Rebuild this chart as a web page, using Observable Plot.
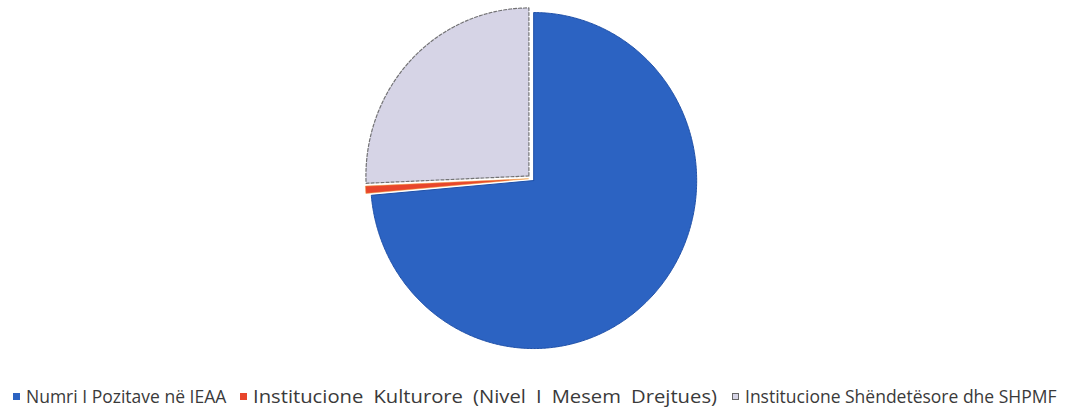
<!DOCTYPE html>
<html>
<head>
<meta charset="utf-8">
<script src="https://cdn.jsdelivr.net/npm/d3@7"></script>
<script src="https://cdn.jsdelivr.net/npm/@observablehq/plot@0.6"></script>
<style>
  html, body { margin: 0; padding: 0; background: #fff; }
  #chart { width: 1068px; height: 408px; position: relative; }
  #legend { position: absolute; left: 0; top: 385px; width: 1068px; height: 24px;
    font-family: "Open Sans", "Noto Sans", sans-serif; font-size: 17.5px; color: #3a3a3a; white-space: nowrap; }
  .sw { position: absolute; width: 7px; height: 7px; box-sizing: border-box; top: 8px; }
  .tx { position: absolute; top: -1px; line-height: 24px; transform-origin: 0 50%; }
</style>
</head>
<body>
<div id="chart"><div id="plot"></div><div id="legend"></div></div>
<script>
// ---- data ----
const categories = [
  "Numri I Pozitave në IEAA",
  "Institucione Kulturore (Nivel I Mesem Drejtues)",
  "Institucione Shëndetësore dhe SHPMF"
];
const values = [73.6, 0.7, 25.7];
const colors = ["#2c63c2", "#e8452c", "#d6d4e6"];
const explode = [0.018, 0.02, 0.022];

// ---- geometry (data space, radius = 1) ----
const total = d3.sum(values);
const rows = [];
let start = 0;
values.forEach((v, i) => {
  const a0 = start / total * 2 * Math.PI;
  const a1 = (start + v) / total * 2 * Math.PI;
  start += v;
  const mid = (a0 + a1) / 2;
  const dx = Math.sin(mid) * explode[i], dy = Math.cos(mid) * explode[i];
  rows.push({cat: categories[i], x: dx, y: dy, k: 0});
  const n = Math.max(4, Math.ceil((a1 - a0) / (Math.PI / 360)));
  for (let j = 0; j <= n; j++) {
    const a = a0 + (a1 - a0) * j / n;
    rows.push({cat: categories[i], x: dx + Math.sin(a), y: dy + Math.cos(a), k: j + 1});
  }
  rows.push({cat: categories[i], x: dx, y: dy, k: n + 2});
});

const W = 1068, H = 372, RX = 163, RY = 168, CX = 531, CY = 178;
const plot = Plot.plot({
  width: W, height: H,
  margin: 0,
  x: {domain: [-CX / RX, (W - CX) / RX], axis: null},
  y: {domain: [-(H - CY) / RY, CY / RY], axis: null},
  color: {domain: categories, range: colors},
  marks: [
    Plot.line(rows.filter(d => d.cat === categories[0]), {x: "x", y: "y", z: "cat", fill: "cat", stroke: "#1f50a8", strokeWidth: 1, curve: "linear"}),
    Plot.line(rows.filter(d => d.cat === categories[1]), {x: "x", y: "y", z: "cat", fill: "cat", stroke: "#f0a040", strokeWidth: 0.5, curve: "linear"}),
    Plot.line(rows.filter(d => d.cat === categories[2]), {x: "x", y: "y", z: "cat", fill: "cat", stroke: "#555", strokeWidth: 1.2, strokeDasharray: "3,2", strokeOpacity: 0.8, curve: "linear"})
  ]
});
document.getElementById("plot").appendChild(plot);

// ---- legend ----
const legend = document.getElementById("legend");
const swLeft = [13, 240, 732];
const txLeft = [26, 253, 745];
const swStroke = ["#2c63c2", "#e8452c", "#666"];
categories.forEach((c, i) => {
  const sw = document.createElement("div");
  sw.className = "sw";
  sw.style.left = swLeft[i] + "px";
  sw.style.background = colors[i];
  sw.style.border = "1px solid " + swStroke[i];
  legend.appendChild(sw);
  const t = document.createElement("div");
  t.className = "tx";
  t.style.left = txLeft[i] + "px";
  t.textContent = c;
  legend.appendChild(t);
});
// widen the middle entry to fill the space before the third swatch, as in the reference
const mid = legend.querySelectorAll(".tx")[1];
const target = swLeft[2] - 15 - txLeft[1];
const w = mid.getBoundingClientRect().width;
if (target > w) {
  mid.style.wordSpacing = ((target - w) * 0.3 / 6) + "px";
  const w2 = mid.getBoundingClientRect().width;
  mid.style.transform = "scaleX(" + (target / w2) + ")";
}
</script>
</body>
</html>
